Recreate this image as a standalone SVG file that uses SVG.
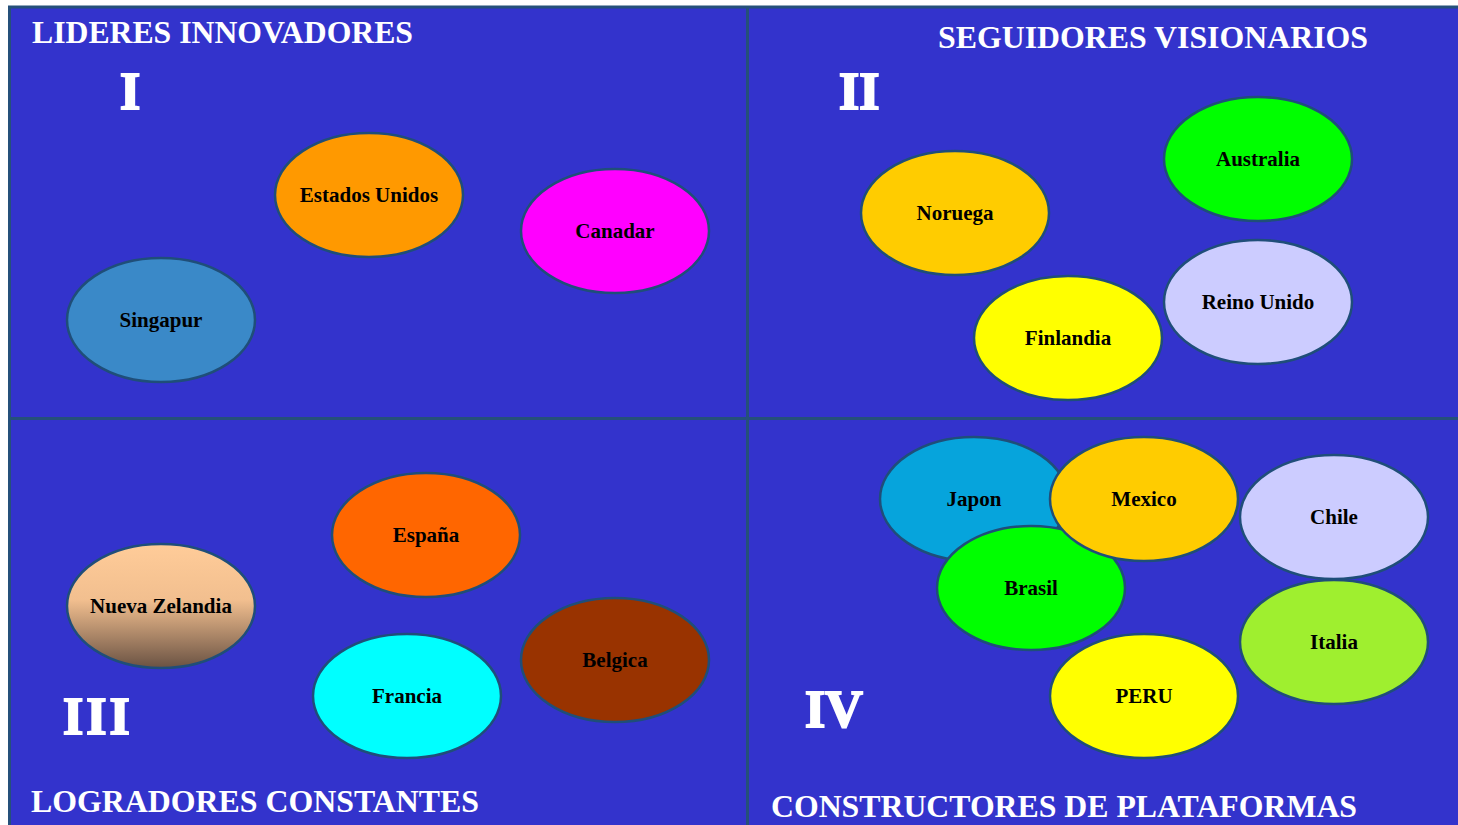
<svg xmlns="http://www.w3.org/2000/svg" width="1458" height="825" viewBox="0 0 1458 825">
<style>
.bg{fill:#3333CC;stroke:#25507A;stroke-width:3}
.div{stroke:#25507A;stroke-width:3;fill:none}
.title{font-family:"Liberation Serif","Times New Roman",serif;font-weight:bold;font-size:31.5px;fill:#FFFFFF}
.num{font-family:"Liberation Serif","Times New Roman",serif;font-weight:bold;font-size:52px;fill:#FFFFFF;stroke:#FFFFFF;stroke-width:2;stroke-linejoin:miter}
.node ellipse{stroke:#1F4E79;stroke-width:2.5}
.node text{font-family:"Liberation Serif","Times New Roman",serif;font-weight:bold;font-size:21px;fill:#000000;text-anchor:middle}
</style>
<defs>
<linearGradient id="nz" x1="0" y1="0" x2="0" y2="1">
<stop offset="0" stop-color="#FFCC99"/>
<stop offset="0.45" stop-color="#F2BF8F"/>
<stop offset="1" stop-color="#6A5243"/>
</linearGradient>
</defs>
<rect x="0" y="0" width="1458" height="825" fill="#FFFFFF"/>
<rect class="bg" x="9.5" y="7" width="1460" height="830"/>
<g id="dividers">
<line class="div" x1="747.5" y1="7" x2="747.5" y2="825"/>
<line class="div" x1="9.5" y1="418.5" x2="1458" y2="418.5"/>
</g>
<g id="labels">
<text class="title" x="32" y="43" textLength="381" lengthAdjust="spacingAndGlyphs">LIDERES INNOVADORES</text>
<text class="title" x="938" y="48" textLength="430" lengthAdjust="spacingAndGlyphs">SEGUIDORES VISIONARIOS</text>
<text class="title" x="31" y="812" textLength="448" lengthAdjust="spacingAndGlyphs">LOGRADORES CONSTANTES</text>
<text class="title" x="771" y="817" textLength="586" lengthAdjust="spacingAndGlyphs">CONSTRUCTORES DE PLATAFORMAS</text>
<text class="num" x="120" y="109">I</text>
<text class="num" x="839" y="109">II</text>
<text class="num" x="63" y="734" letter-spacing="3">III</text>
<text class="num" x="805" y="727">IV</text>
</g>
<g id="connectors"></g>
<g id="n-estados-unidos" class="node"><ellipse cx="369" cy="195" rx="94" ry="62" fill="#FF9900"/><text x="369" y="202">Estados Unidos</text></g>
<g id="n-canadar" class="node"><ellipse cx="615" cy="231" rx="94" ry="62" fill="#FF00FF"/><text x="615" y="238">Canadar</text></g>
<g id="n-singapur" class="node"><ellipse cx="161" cy="320" rx="94" ry="62" fill="#3A89C8"/><text x="161" y="327">Singapur</text></g>
<g id="n-noruega" class="node"><ellipse cx="955" cy="213" rx="94" ry="62" fill="#FFCC00"/><text x="955" y="220">Noruega</text></g>
<g id="n-australia" class="node"><ellipse cx="1258" cy="159" rx="94" ry="62" fill="#00FF00"/><text x="1258" y="166">Australia</text></g>
<g id="n-reino-unido" class="node"><ellipse cx="1258" cy="302" rx="94" ry="62" fill="#CCCCFF"/><text x="1258" y="309">Reino Unido</text></g>
<g id="n-finlandia" class="node"><ellipse cx="1068" cy="338" rx="94" ry="62" fill="#FFFF00"/><text x="1068" y="345">Finlandia</text></g>
<g id="n-espana" class="node"><ellipse cx="426" cy="535" rx="94" ry="62" fill="#FF6600"/><text x="426" y="542">España</text></g>
<g id="n-nueva-zelandia" class="node"><ellipse cx="161" cy="606" rx="94" ry="62" fill="url(#nz)"/><text x="161" y="613">Nueva Zelandia</text></g>
<g id="n-belgica" class="node"><ellipse cx="615" cy="660" rx="94" ry="62" fill="#993300"/><text x="615" y="667">Belgica</text></g>
<g id="n-francia" class="node"><ellipse cx="407" cy="696" rx="94" ry="62" fill="#00FFFF"/><text x="407" y="703">Francia</text></g>
<g id="n-japon" class="node"><ellipse cx="974" cy="499" rx="94" ry="62" fill="#06A4DC"/><text x="974" y="506">Japon</text></g>
<g id="n-brasil" class="node"><ellipse cx="1031" cy="588" rx="94" ry="62" fill="#00FF00"/><text x="1031" y="595">Brasil</text></g>
<g id="n-mexico" class="node"><ellipse cx="1144" cy="499" rx="94" ry="62" fill="#FFCC00"/><text x="1144" y="506">Mexico</text></g>
<g id="n-chile" class="node"><ellipse cx="1334" cy="517" rx="94" ry="62" fill="#CCCCFF"/><text x="1334" y="524">Chile</text></g>
<g id="n-italia" class="node"><ellipse cx="1334" cy="642" rx="94" ry="62" fill="#9FEF2F"/><text x="1334" y="649">Italia</text></g>
<g id="n-peru" class="node"><ellipse cx="1144" cy="696" rx="94" ry="62" fill="#FFFF00"/><text x="1144" y="703">PERU</text></g>
</svg>
